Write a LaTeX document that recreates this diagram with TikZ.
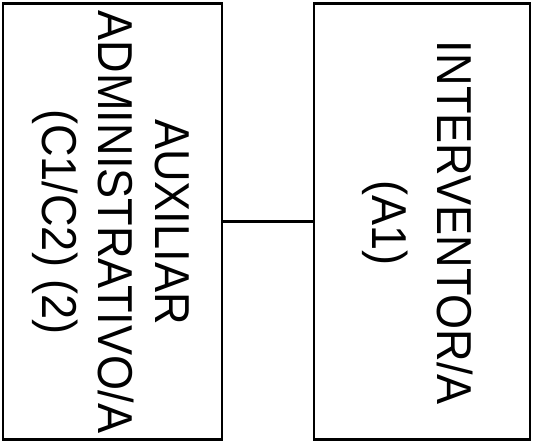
\documentclass[tikz,border=0pt]{standalone}
\usepackage{fontspec}
\newfontfamily\boxfont[FakeStretch=0.92]{Liberation Sans}
\begin{document}
\begin{tikzpicture}[x=1pt,y=-1pt,
  posbox/.style={draw=black,line width=2.9pt,fill=white,inner sep=0pt},
  vtext/.style={rotate=-90,anchor=base,inner sep=0pt,font=\boxfont\fontsize{49}{57}\selectfont}]
  \useasboundingbox (0,0) rectangle (533,441);
  % boxes
  \node[posbox,minimum width=219pt,minimum height=436pt] (aux) at (112.5,221.5) {};
  \node[posbox,minimum width=216pt,minimum height=436pt] (int) at (422,221.5) {};
  % link between the two positions
  \draw[line width=2.6pt] (aux.east) -- (int.west);
  % labels, read top to bottom
  \node[vtext] (aux1) at (155,222) {AUXILIAR};
  \node[vtext] (aux2) at (98,222) {ADMINISTRATIVO/A};
  \node[vtext] (aux3) at (42,222) {(C1/C2) (2)};
  \node[vtext] (int1) at (437,223) {INTERVENTOR/A};
  \node[vtext] (int2) at (372,223) {(A1)};
\end{tikzpicture}
\end{document}
